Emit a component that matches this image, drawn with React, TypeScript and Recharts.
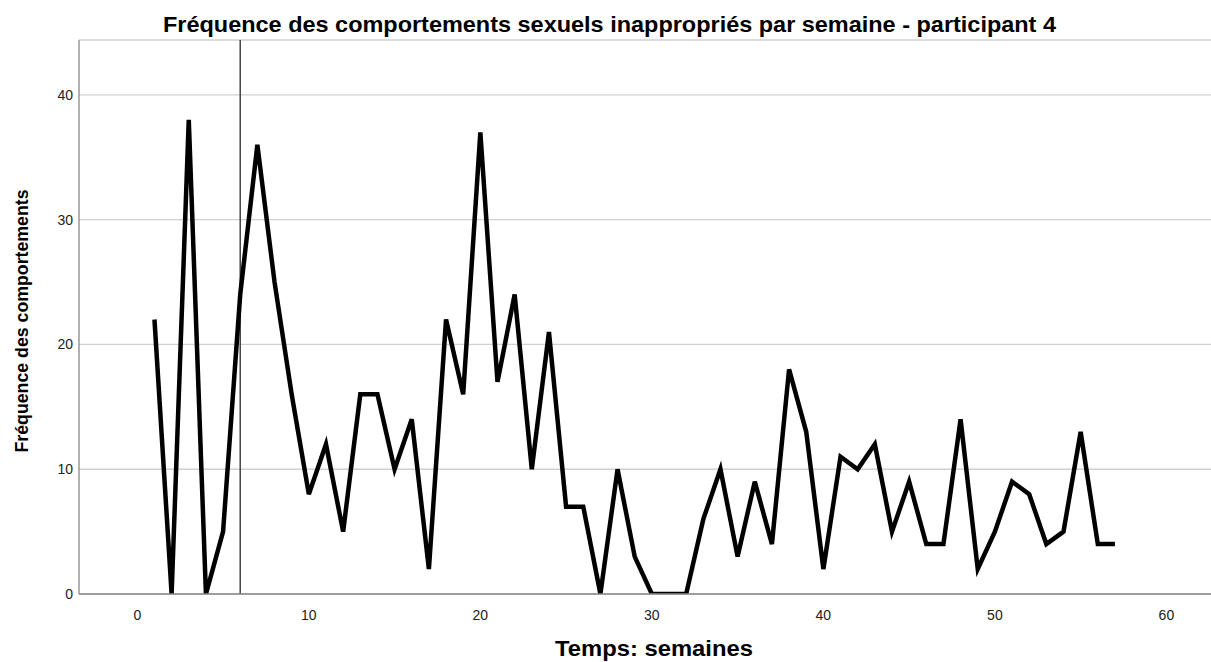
import { LineChart, Line, XAxis, YAxis, CartesianGrid, ReferenceLine } from "recharts";

const weeks = [
  1, 2, 3, 4, 5, 6, 7, 8, 9, 10, 11, 12, 13, 14, 15, 16, 17, 18, 19, 20,
  21, 22, 23, 24, 25, 26, 27, 28, 29, 30, 31, 32, 33, 34, 35, 36, 37, 38, 39, 40,
  41, 42, 43, 44, 45, 46, 47, 48, 49, 50, 51, 52, 53, 54, 55, 56, 57,
];
const frequency = [
  22, 0, 38, 0, 5, 24, 36, 25, 16, 8, 12, 5, 16, 16, 10, 14, 2, 22, 16, 37,
  17, 24, 10, 21, 7, 7, 0, 10, 3, 0, 0, 0, 6, 10, 3, 9, 4, 18, 13, 2,
  11, 10, 12, 5, 9, 4, 4, 14, 2, 5, 9, 8, 4, 5, 13, 4, 4,
];
const xTicks = [0, 10, 20, 30, 40, 50, 60];
const yTicks = [0, 10, 20, 30, 40];
const phaseChange = 6;

const title = "Fréquence des comportements sexuels inappropriés par semaine - participant 4";
const xLabel = "Temps: semaines";
const yLabel = "Fréquence des comportements";

const data = weeks.map((w, i) => ({ week: w, value: frequency[i] }));

const font = "'Liberation Sans', Arial, sans-serif";

const App = () => {
  return (
    <div style={{ position: "absolute", left: 0, top: 0, width: 1211, height: 662, fontFamily: font }}>
      <LineChart
        width={1211}
        height={662}
        data={data}
        margin={{ top: 40, right: 0, left: 0, bottom: 0 }}
        style={{ position: "absolute", left: 0, top: 0 }}
      >
        <CartesianGrid vertical={false} stroke="#d0d0d0" strokeWidth={1.3} />
        <XAxis
          dataKey="week"
          type="number"
          domain={[-3.4, 62.6]}
          ticks={xTicks}
          allowDataOverflow
          height={68}
          tickLine={false}
          tickMargin={10}
          axisLine={{ stroke: "#888", strokeWidth: 1.3 }}
          tick={{ fill: "#222", fontSize: 14, fontFamily: font }}
        />
        <YAxis
          type="number"
          domain={[0, 44.4]}
          ticks={yTicks}
          allowDataOverflow
          width={79}
          tickLine={false}
          tickMargin={0}
          axisLine={{ stroke: "#888", strokeWidth: 1.3 }}
          tick={{ fill: "#222", fontSize: 14, fontFamily: font }}
        />
        <ReferenceLine x={phaseChange} stroke="#444" strokeWidth={1.5} />
        <Line
          type="linear"
          dataKey="value"
          stroke="#000"
          strokeWidth={4.5}
          dot={false}
          activeDot={false}
          isAnimationActive={false}
        />
      </LineChart>
      <svg
        width={1211}
        height={662}
        style={{ position: "absolute", left: 0, top: 0, pointerEvents: "none" }}
      >
        <text
          x={609.5}
          y={32}
          textAnchor="middle"
          fontFamily={font}
          fontWeight="bold"
          fontSize={22}
          textLength={893}
          lengthAdjust="spacingAndGlyphs"
          fill="#000"
        >
          {title}
        </text>
        <text
          x={654}
          y={656}
          textAnchor="middle"
          fontFamily={font}
          fontWeight="bold"
          fontSize={22}
          textLength={198}
          lengthAdjust="spacingAndGlyphs"
          fill="#000"
        >
          {xLabel}
        </text>
        <text
          x={0}
          y={0}
          transform="translate(28, 321) rotate(-90)"
          textAnchor="middle"
          fontFamily={font}
          fontWeight="bold"
          fontSize={19}
          textLength={263}
          lengthAdjust="spacingAndGlyphs"
          fill="#000"
        >
          {yLabel}
        </text>
      </svg>
    </div>
  );
};

export default App;
